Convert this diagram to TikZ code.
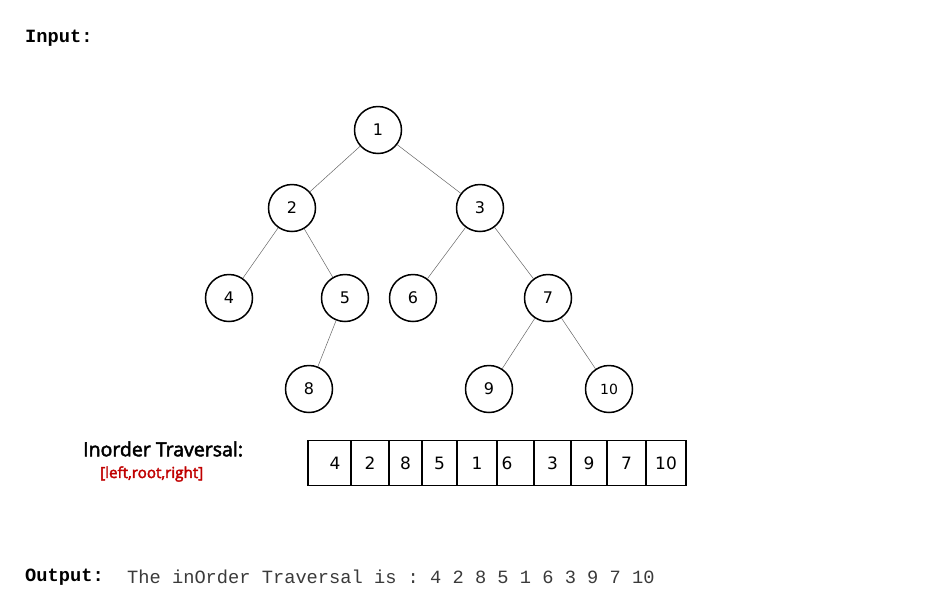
\documentclass[tikz,border=0pt]{standalone}
\usepackage{fontspec}
\setmainfont{DejaVu Sans}
\setmonofont{Liberation Mono}
\newfontfamily\headfont[FakeBold=2.5]{Open Sans}
\usetikzlibrary{positioning}
\definecolor{labelred}{HTML}{C00000}
\definecolor{outgray}{HTML}{3A3A3A}
\tikzstyle{novertex} = [draw=none, fill=none, inner sep=0pt, anchor=west]
\tikzstyle{vertex} = [circle, draw, line width=1.5pt, minimum size=47pt, inner sep=0pt, font=\fontsize{16}{18}\selectfont]
\tikzstyle{edge} = [draw, black!60, line width=0.5pt]
\tikzstyle{cell} = [rectangle, draw, line width=1.4pt, minimum height=45pt, inner sep=0pt, outer sep=0pt, anchor=west, font=\fontsize{17}{19}\selectfont]

\begin{document}
\begin{tikzpicture}[x=1pt, y=-1pt, on grid]
	\useasboundingbox (0,0) rectangle (937,614);

	% headings
	\node [novertex, font=\ttfamily\bfseries\fontsize{18.7}{20}\selectfont] (IN) at (25,38) {Input:};

	% place nodes
	\node [vertex] at (378,130) (N1) {1};
	\node [vertex, below left=78pt and 86pt of N1]  (N2) {2};
	\node [vertex, below right=78pt and 102pt of N1] (N3) {3};
	\node [vertex, below left=90pt and 63pt of N2]  (N4) {4};
	\node [vertex, below right=90pt and 53pt of N2] (N5) {5};
	\node [vertex, below left=90pt and 67pt of N3]  (N6) {6};
	\node [vertex, below right=90pt and 68pt of N3] (N7) {7};
	\node [vertex, below left=91pt and 36pt of N5]  (N8) {8};
	\node [vertex, below left=91pt and 59pt of N7]  (N9) {9};
	\node [vertex, below right=91pt and 61pt of N7, font=\fontsize{14}{16}\selectfont] (N10) {10};

	% draw edges
	\path [edge] (N1) -- (N2);
	\path [edge] (N1) -- (N3);
	\path [edge] (N2) -- (N4);
	\path [edge] (N2) -- (N5);
	\path [edge] (N3) -- (N6);
	\path [edge] (N3) -- (N7);
	\path [edge] (N5) -- (N8);
	\path [edge] (N7) -- (N9);
	\path [edge] (N7) -- (N10);

	% traversal labels
	\node [novertex, font=\headfont\fontsize{19.5}{21}\selectfont] (T1) at (83,449) {Inorder Traversal:};
	\node [novertex, text=labelred, font=\headfont\fontsize{15.2}{17}\selectfont] (T2) at (100,474) {[left,root,right]};

	% array cells
	\node [cell, minimum width=43pt] at (308,463) (C1) {\hspace*{11pt}4};
	\node [cell, minimum width=38pt, right=0pt of C1.east, on grid=false] (C2) {2};
	\node [cell, minimum width=33pt, right=0pt of C2.east, on grid=false] (C3) {8};
	\node [cell, minimum width=35pt, right=0pt of C3.east, on grid=false] (C4) {5};
	\node [cell, minimum width=40pt, right=0pt of C4.east, on grid=false] (C5) {1};
	\node [cell, minimum width=37pt, right=0pt of C5.east, on grid=false] (C6) {6\hspace*{17pt}};
	\node [cell, minimum width=37pt, right=0pt of C6.east, on grid=false] (C7) {3};
	\node [cell, minimum width=36pt, right=0pt of C7.east, on grid=false] (C8) {9};
	\node [cell, minimum width=39pt, right=0pt of C8.east, on grid=false] (C9) {7};
	\node [cell, minimum width=40pt, right=0pt of C9.east, on grid=false] (C10) {10};

	% output line
	\node [novertex, font=\ttfamily\bfseries\fontsize{18.7}{20}\selectfont] (OUT) at (25,577) {Output:};
	\node [novertex, text=outgray, font=\ttfamily\fontsize{18.7}{20}\selectfont] (RES) at (127,577) {The inOrder Traversal is : 4 2 8 5 1 6 3 9 7 10};
\end{tikzpicture}
\end{document}
